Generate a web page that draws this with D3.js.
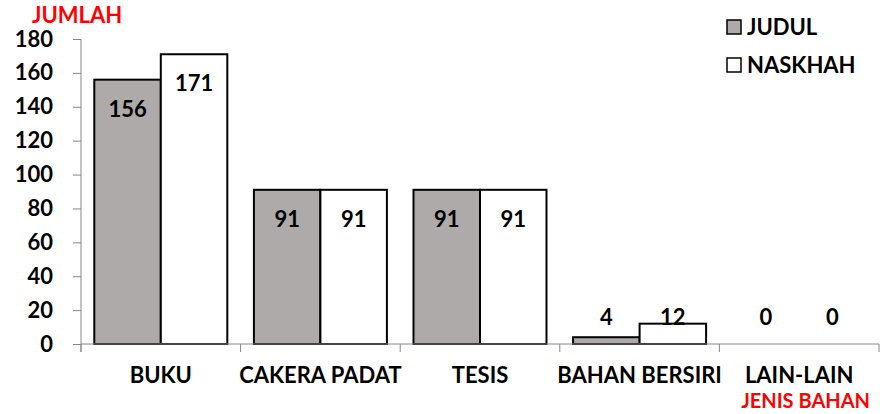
<!DOCTYPE html>
<html>
<head>
<meta charset="utf-8">
<script src="https://cdn.jsdelivr.net/npm/d3@7"></script>
<style>
  body { margin: 0; background: #fff; }
  text { font-family: Lato, "Open Sans", sans-serif; font-weight: bold; }
</style>
</head>
<body>
<script>
var w = 883, h = 414;
var categories = ["BUKU", "CAKERA PADAT", "TESIS", "BAHAN BERSIRI", "LAIN-LAIN"];
var seriesNames = ["JUDUL", "NASKHAH"];
var judul = [156, 91, 91, 4, 0];
var naskhah = [171, 91, 91, 12, 0];
var yTicks = [0, 20, 40, 60, 80, 100, 120, 140, 160, 180];
var colors = ["#aeaaaa", "#ffffff"];

var margin = { left: 81, right: 4, top: 39, bottom: 70 };

var svg = d3.select("body").append("svg")
  .attr("width", w).attr("height", h);

var x = d3.scaleBand()
  .domain(categories)
  .range([margin.left, w - margin.right]);

var x1 = d3.scaleBand()
  .domain(seriesNames)
  .range([0, x.bandwidth()])
  .paddingOuter(0.2)
  .paddingInner(0);

var y = d3.scaleLinear()
  .domain([0, 180])
  .range([h - margin.bottom, margin.top]);

var rows = categories.map(function (c, i) {
  return { cat: c, vals: [judul[i], naskhah[i]] };
});

// bars
var groups = svg.selectAll("g.cat")
  .data(rows)
  .enter().append("g")
  .attr("class", "cat")
  .attr("transform", function (d) { return "translate(" + x(d.cat) + ",0)"; });

groups.selectAll("rect")
  .data(function (d) { return d.vals.map(function (v, j) { return { s: seriesNames[j], v: v, j: j }; }); })
  .enter().append("rect")
  .filter(function (d) { return d.v > 0; })
  .attr("x", function (d) { return x1(d.s); })
  .attr("y", function (d) { return y(d.v); })
  .attr("width", x1.bandwidth())
  .attr("height", function (d) { return y(0) - y(d.v); })
  .attr("fill", function (d) { return colors[d.j]; })
  .attr("stroke", "#000")
  .attr("stroke-width", 2);

// value labels
groups.selectAll("text.val")
  .data(function (d) { return d.vals.map(function (v, j) { return { s: seriesNames[j], v: v }; }); })
  .enter().append("text")
  .attr("class", "val")
  .attr("x", function (d) { return x1(d.s) + x1.bandwidth() / 2; })
  .attr("y", function (d) { return Math.min(y(d.v) + 29, y(0) - 27); })
  .attr("dy", "0.36em")
  .attr("text-anchor", "middle")
  .attr("font-size", 22)
  .attr("fill", "#000")
  .text(function (d) { return d.v; });

// y axis
var yAxis = svg.append("g")
  .attr("transform", "translate(" + margin.left + ",0)")
  .call(d3.axisLeft(y).tickValues(yTicks).tickSize(8).tickPadding(20));
yAxis.select(".domain").attr("d", "M0," + y(180) + "V" + (y(0) + 8));
yAxis.selectAll("line").attr("stroke", "#868686");
yAxis.select(".domain").attr("stroke", "#868686");
yAxis.selectAll("text")
  .attr("font-size", 22)
  .attr("font-family", "Lato, sans-serif")
  .attr("font-weight", "bold")
  .attr("fill", "#000");

// x axis
var xAxis = svg.append("g")
  .attr("transform", "translate(0," + y(0) + ")");
xAxis.append("line")
  .attr("x1", margin.left).attr("x2", w - margin.right)
  .attr("stroke", "#868686");
xAxis.selectAll("line.tk")
  .data(categories.concat(["end"]))
  .enter().append("line")
  .attr("class", "tk")
  .attr("x1", function (d, i) { return i < categories.length ? x(d) : w - margin.right; })
  .attr("x2", function (d, i) { return i < categories.length ? x(d) : w - margin.right; })
  .attr("y1", 0).attr("y2", 8)
  .attr("stroke", "#868686");
xAxis.selectAll("text")
  .data(categories)
  .enter().append("text")
  .attr("x", function (d) { return x(d) + x.bandwidth() / 2; })
  .attr("y", 31)
  .attr("dy", "0.36em")
  .attr("text-anchor", "middle")
  .attr("font-size", 22)
  .attr("fill", "#000")
  .text(function (d) { return d; });

// axis titles
svg.append("text")
  .attr("x", 32).attr("y", 15).attr("dy", "0.36em")
  .attr("font-size", 22).attr("fill", "#ff0000")
  .text("JUMLAH");
svg.append("text")
  .attr("x", 870).attr("y", 401).attr("dy", "0.36em")
  .attr("text-anchor", "end")
  .attr("font-size", 20).attr("fill", "#ff0000")
  .text("JENIS BAHAN");

// legend
var legend = svg.selectAll("g.leg")
  .data(seriesNames)
  .enter().append("g")
  .attr("class", "leg")
  .attr("transform", function (d, i) { return "translate(727," + (27 + i * 38) + ")"; });
legend.append("rect")
  .attr("x", 0).attr("y", -7).attr("width", 14).attr("height", 14)
  .attr("fill", function (d, i) { return colors[i]; })
  .attr("stroke", "#000").attr("stroke-width", 1.5);
legend.append("text")
  .attr("x", 20).attr("dy", "0.36em")
  .attr("font-size", 22).attr("fill", "#000")
  .text(function (d) { return d; });
</script>
</body>
</html>
